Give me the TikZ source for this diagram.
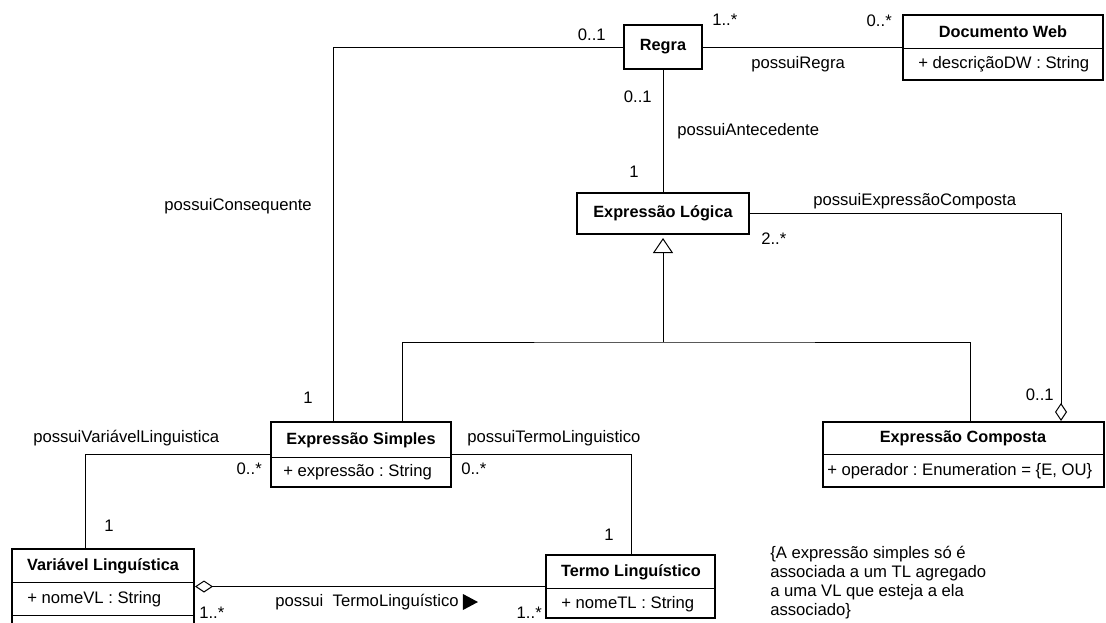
\documentclass[tikz,border=0pt]{standalone}
\usepackage{fontspec}
\setmainfont{Liberation Sans}
\usetikzlibrary{arrows.meta,calc,fit}
\frenchspacing
\begin{document}
\begin{tikzpicture}[x=0.75pt,y=-0.75pt,
  every node/.style={font=\fontsize{12.5}{15}\selectfont, inner sep=0pt},
  cls/.style={draw, line width=1.5pt, inner sep=0pt},
  ttl/.style={font=\fontsize{12.2}{14}\selectfont\bfseries},
  conn/.style={line width=0.75pt},
  sep/.style={line width=0.75pt},
  agg/.style={conn, -{Diamond[open, length=13.5pt, width=9pt, line width=0.75pt]}},
  gen/.style={conn, shorten >=2.25pt, -{Triangle[open, length=11.25pt, width=15pt, line width=0.75pt]}},
]
\useasboundingbox (0,0) rectangle (1106,622);
\clip (0,0) rectangle (1106,622);

% ---- classes ----
\node[cls, fit={(624,25) (702,69)}] (regra) {};
\node[ttl] (regraT) at (regra.center) {Regra};

\node[cls, fit={(903,15) (1103,80)}] (dw) {};
\node[ttl] (dwT) at (1003,32) {Documento Web};
\draw[sep] (903,48) -- (1103,48);
\node[anchor=west] (dwA) at (918,64) {+ descriçãoDW : String};

\node[cls, fit={(577,193) (749,234)}] (el) {};
\node[ttl] (elT) at (el.center) {Expressão Lógica};

\node[cls, fit={(271,422) (451,487)}] (es) {};
\node[ttl] (esT) at (361,440) {Expressão Simples};
\draw[sep] (271,457) -- (451,457);
\node[anchor=west] (esA) at (283,472) {+ expressão : String};

\node[cls, fit={(823,422) (1104,487)}] (ec) {};
\node[ttl] (ecT) at (963,438) {Expressão Composta};
\draw[sep] (823,454) -- (1104,454);
\node[anchor=west] (ecA) at (827,471) {+ operador : Enumeration = \{E, OU\}};

\node[cls, fit={(12,549) (194,660)}] (vl) {};
\node[ttl] (vlT) at (103,566) {Variável Linguística};
\draw[sep] (12,582) -- (194,582);
\node[anchor=west] (vlA) at (27,599) {+ nomeVL : String};
\draw[sep] (12,615) -- (194,615);

\node[cls, fit={(546,555) (715,618)}] (tl) {};
\node[ttl] (tlT) at (631,572) {Termo Linguístico};
\draw[sep] (546,588) -- (715,588);
\node[anchor=west] (tlA) at (561,604) {+ nomeTL : String};

% ---- associations ----
\draw[conn] (regra.east) -- (regra.east -| dw.west);
\node[anchor=west] (m1) at (712,20) {1..*};
\node[anchor=east] (m2) at (892,21) {0..*};
\node[anchor=west] (a1) at (751,64) {possuiRegra};

\draw[conn] (regra.south) -- (el.north);
\node[anchor=east] (m3) at (652,97) {0..1};
\node[anchor=west] (a2) at (677,131) {possuiAntecedente};
\node[anchor=east] (m4) at (639,172) {1};

\draw[conn] (regra.west) -| ($(es.north west)+(63,0)$);
\node[anchor=east] (m5) at (606,35) {0..1};
\node[anchor=east] (a3) at (312,206) {possuiConsequente};
\node[anchor=east] (m6) at (313,398) {1};

% generalisation tree
\coordinate (bus) at (663,342);
\draw[gen] (bus) -- (el.south);
\draw[conn] ($(es.north west)+(132,0)$) |- (bus) -| ($(ec.north west)+(148,0)$);

% composition of logical expressions
\draw[agg] (el.east) -| ($(ec.north west)+(239,0)$);
\node[anchor=west] (a4) at (813,201) {possuiExpressãoComposta};
\node[anchor=west] (m7) at (761,239) {2..*};
\node[anchor=east] (m8) at (1054,395) {0..1};

\draw[conn] (es.west) -| ($(vl.north west)+(74,0)$);
\node[anchor=west] (a5) at (33,438) {possuiVariávelLinguistica};
\node[anchor=east] (m9) at (262,469) {0..*};
\node[anchor=west] (m10) at (104,526) {1};

\draw[conn] (es.east) -| ($(tl.north west)+(86,0)$);
\node[anchor=west] (a6) at (467,438) {possuiTermoLinguistico};
\node[anchor=west] (m11) at (461,469) {0..*};
\node[anchor=east] (m12) at (614,535) {1};

% aggregation of linguistic terms
\draw[agg] (tl.west) -- (tl.west -| vl.east);
\node[anchor=west] (a7) at (275,602) {possui\ \ TermoLinguístico};
\fill ($(a7.east)+(4,-8)$) -- ++(15,8) -- ++(-15,8) -- cycle;
\node[anchor=west] (m13) at (199,613) {1..*};
\node[anchor=east] (m14) at (542,613) {1..*};

% constraint note
\node[anchor=north west, align=left, font=\fontsize{12.5}{14.25}\selectfont] (note) at (770,546)
  {\{A expressão simples só é\\associada a um TL agregado\\a uma VL que esteja a ela\\associado\}};
\end{tikzpicture}
\end{document}
